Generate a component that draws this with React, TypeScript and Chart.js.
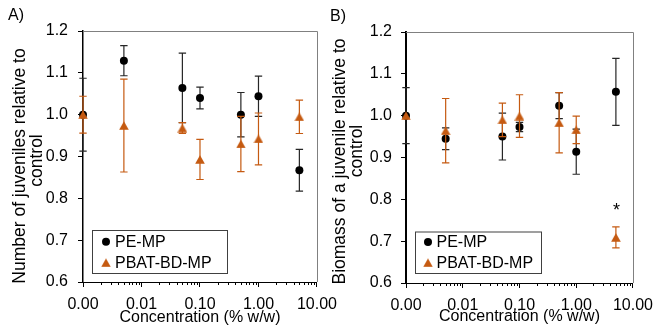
import React, { useEffect, useRef } from 'react';
import { Chart, registerables } from 'chart.js';

Chart.register(...registerables);

const FONT = "'Liberation Sans', Arial, sans-serif";
const BLACK = '#000000';
const ORANGE = '#C55A11';
const PE_ERR_COLOR = '#262626';

// ---- data ----
const seriesNames = ['PE-MP', 'PBAT-BD-MP'];
// control (0 % w/w) is plotted at 0.001 on the log axis
const concentrations = [0.001, 0.005, 0.05, 0.1, 0.5, 1, 5];
const xTickValues = [0.001, 0.01, 0.1, 1, 10];
const xTickLabels = ['0.00', '0.01', '0.10', '1.00', '10.00'];
const yTickValues = [0.6, 0.7, 0.8, 0.9, 1.0, 1.1, 1.2];

// Panel A: number of juveniles relative to control
const peJuveniles = [1.0, 1.129, 1.064, 1.04, 1.0, 1.044, 0.867];
const peJuvenilesErr = [0.087, 0.036, 0.083, 0.026, 0.053, 0.048, 0.05];
const pbatJuveniles = [1.0, 0.974, 0.968, 0.893, 0.93, 0.942, 0.995];
const pbatJuvenilesErr = [0.044, 0.111, 0.013, 0.048, 0.066, 0.062, 0.04];

// Panel B: biomass of a juvenile relative to control
const peBiomass = [1.0, 0.945, 0.95, 0.973, 1.024, 0.914, 1.057];
const peBiomassErr = [0.067, 0.026, 0.056, 0.011, 0.031, 0.054, 0.08];
const pbatBiomass = [1.0, 0.964, 0.99, 0.999, 0.983, 0.966, 0.709];
const pbatBiomassErr = [0, 0.077, 0.04, 0.051, 0.072, 0.033, 0.025];
const pbatBiomassSignificant = [6];

type Panel = {
  label: string;
  yTitle: string[];
  xTitle: string;
  pe: number[];
  peErr: number[];
  pbat: number[];
  pbatErr: number[];
  significant: number[];
  canvasLeft: number;
  canvasWidth: number;
  yAxisWidth: number;
  top: number;
  padRight: number;
  xAxisHeight: number;
  yBorderWidth: number;
  yTickPadding: number;
  labelPos: [number, number];
  yTitlePos: [number, number][];
  xTitleY: number;
  legend: { x: number; y: number; w: number; h: number; markerX: number; textX: number; rows: number[] };
};

const panels: Panel[] = [
  {
    label: 'A)',
    yTitle: ['Number of juveniles relative to', 'control'],
    xTitle: 'Concentration (% w/w)',
    pe: peJuveniles,
    peErr: peJuvenilesErr,
    pbat: pbatJuveniles,
    pbatErr: pbatJuvenilesErr,
    significant: [],
    canvasLeft: 0,
    canvasWidth: 345,
    yAxisWidth: 83,
    top: 31,
    padRight: 28,
    xAxisHeight: 49,
    yBorderWidth: 1.5,
    yTickPadding: 10,
    labelPos: [8, 16],
    yTitlePos: [[20.5, 166], [37.5, 160.5]],
    xTitleY: 317.5,
    legend: { x: 92, y: 230, w: 135, h: 43, markerX: 106, textX: 115, rows: [241.7, 262.7] },
  },
  {
    label: 'B)',
    yTitle: ['Biomass of a juvenile relative to', 'control'],
    xTitle: 'Concentration (% w/w)',
    pe: peBiomass,
    peErr: peBiomassErr,
    pbat: pbatBiomass,
    pbatErr: pbatBiomassErr,
    significant: pbatBiomassSignificant,
    canvasLeft: 330,
    canvasWidth: 331,
    yAxisWidth: 76,
    top: 32,
    padRight: 23,
    xAxisHeight: 48,
    yBorderWidth: 2,
    yTickPadding: 9,
    labelPos: [0, 17],
    yTitlePos: [[10, 161.5], [27, 151]],
    xTitleY: 317,
    legend: { x: 85, y: 231.5, w: 126, h: 41.5, markerX: 98, textX: 106.5, rows: [242, 262.7] },
  },
];

// triangle marker centred on its bounding box (like the spreadsheet marker)
function makeTriangleImage(color: string): HTMLCanvasElement {
  const c = document.createElement('canvas');
  c.width = 10;
  c.height = 9;
  const g = c.getContext('2d')!;
  g.fillStyle = color;
  g.beginPath();
  g.moveTo(5, 0.2);
  g.lineTo(9.8, 8.8);
  g.lineTo(0.2, 8.8);
  g.closePath();
  g.fill();
  return c;
}

function drawMarker(ctx: CanvasRenderingContext2D, style: any, x: number, y: number, r: number, color: string) {
  ctx.save();
  if (style instanceof HTMLCanvasElement) {
    ctx.drawImage(style, x - style.width / 2, y - style.height / 2);
  } else {
    ctx.fillStyle = color;
    ctx.beginPath();
    ctx.arc(x, y, r, 0, Math.PI * 2);
    ctx.fill();
  }
  ctx.restore();
}

const decorPlugin = {
  id: 'decor',
  beforeDatasetDraw(chart: any, args: any) {
    const ds = chart.data.datasets[args.index];
    const errs: number[] | undefined = ds.errorBars;
    if (!errs) return;
    const ctx: CanvasRenderingContext2D = chart.ctx;
    const xS = chart.scales.x;
    const yS = chart.scales.y;
    ctx.save();
    ctx.strokeStyle = ds.errorColor;
    ctx.lineWidth = 1.2;
    ds.data.forEach((p: { x: number; y: number }, i: number) => {
      const e = errs[i];
      if (!e) return;
      const x = xS.getPixelForValue(p.x);
      const y1 = yS.getPixelForValue(p.y + e);
      const y2 = yS.getPixelForValue(p.y - e);
      ctx.beginPath();
      ctx.moveTo(x, y1);
      ctx.lineTo(x, y2);
      ctx.moveTo(x - 3.7, y1);
      ctx.lineTo(x + 3.7, y1);
      ctx.moveTo(x - 3.7, y2);
      ctx.lineTo(x + 3.7, y2);
      ctx.stroke();
    });
    ctx.restore();
  },
  beforeDatasetsDraw(chart: any) {
    const ctx: CanvasRenderingContext2D = chart.ctx;
    const a = chart.chartArea;
    const xS = chart.scales.x;
    ctx.save();
    // top and right frame
    ctx.strokeStyle = '#808080';
    ctx.lineWidth = 1;
    ctx.beginPath();
    ctx.moveTo(Math.round(a.left), Math.round(a.top) + 0.5);
    ctx.lineTo(Math.round(a.right) + 0.5, Math.round(a.top) + 0.5);
    ctx.lineTo(Math.round(a.right) + 0.5, Math.round(a.bottom));
    ctx.stroke();
    // minor log ticks
    ctx.strokeStyle = BLACK;
    ctx.beginPath();
    for (let d = 0.001; d < 10; d *= 10) {
      for (let m = 2; m <= 9; m++) {
        const x = Math.round(xS.getPixelForValue(d * m)) + 0.5;
        ctx.moveTo(x, a.bottom);
        ctx.lineTo(x, a.bottom + 3);
      }
    }
    ctx.stroke();
    ctx.restore();
  },
  afterDraw(chart: any, _args: any, opts: any) {
    const p: Panel = opts.panel;
    const ctx: CanvasRenderingContext2D = chart.ctx;
    const xS = chart.scales.x;
    const yS = chart.scales.y;
    const a = chart.chartArea;
    ctx.save();
    ctx.fillStyle = BLACK;
    // panel label
    ctx.font = `16px ${FONT}`;
    ctx.textAlign = 'left';
    ctx.textBaseline = 'middle';
    ctx.fillText(p.label, p.labelPos[0], p.labelPos[1]);
    // x title
    ctx.font = `16px ${FONT}`;
    ctx.textAlign = 'center';
    ctx.fillText(p.xTitle, (a.left + a.right) / 2, p.xTitleY);
    // y title
    p.yTitle.forEach((line, i) => {
      ctx.save();
      ctx.translate(p.yTitlePos[i][0], p.yTitlePos[i][1]);
      ctx.rotate(-Math.PI / 2);
      ctx.font = `17.5px ${FONT}`;
      ctx.textAlign = 'center';
      ctx.textBaseline = 'middle';
      ctx.fillText(line, 0, 0);
      ctx.restore();
    });
    // significance asterisks
    const dsPbat = chart.data.datasets[1];
    p.significant.forEach((i) => {
      const pt = dsPbat.data[i];
      const x = xS.getPixelForValue(pt.x);
      const y = yS.getPixelForValue(pt.y + dsPbat.errorBars[i] + 0.05);
      ctx.font = `18px ${FONT}`;
      ctx.textAlign = 'center';
      ctx.textBaseline = 'alphabetic';
      ctx.fillText('*', x + 0.5, y + 0.575 * 18);
    });
    // legend
    const L = p.legend;
    ctx.fillStyle = '#ffffff';
    ctx.fillRect(L.x, L.y, L.w, L.h);
    ctx.strokeStyle = '#404040';
    ctx.lineWidth = 1;
    ctx.strokeRect(L.x + 0.5, L.y + 0.5, L.w, L.h);
    chart.data.datasets.forEach((ds: any, i: number) => {
      drawMarker(ctx, ds.pointStyle, L.markerX, L.rows[i], ds.pointRadius, ds.pointBackgroundColor);
      ctx.fillStyle = BLACK;
      ctx.font = `16px ${FONT}`;
      ctx.textAlign = 'left';
      ctx.textBaseline = 'middle';
      ctx.fillText(ds.label, L.textX, L.rows[i] + 0.5);
    });
    ctx.restore();
  },
};

function makeConfig(p: Panel): any {
  const tri = makeTriangleImage(ORANGE);
  return {
    type: 'scatter',
    data: {
      datasets: [
        {
          label: seriesNames[0],
          data: concentrations.map((x, i) => ({ x, y: p.pe[i] })),
          errorBars: p.peErr,
          errorColor: PE_ERR_COLOR,
          pointStyle: 'circle',
          pointRadius: 4,
          pointBackgroundColor: BLACK,
          pointBorderColor: BLACK,
          pointBorderWidth: 0,
          showLine: false,
          order: 2,
          clip: false,
        },
        {
          label: seriesNames[1],
          data: concentrations.map((x, i) => ({ x, y: p.pbat[i] })),
          errorBars: p.pbatErr,
          errorColor: ORANGE,
          pointStyle: tri,
          pointRadius: 5,
          pointBackgroundColor: ORANGE,
          pointBorderColor: ORANGE,
          pointBorderWidth: 0,
          showLine: false,
          order: 1,
          clip: false,
        },
      ],
    },
    options: {
      responsive: false,
      animation: false,
      events: [],
      layout: { padding: { left: 0, top: p.top, right: p.padRight, bottom: 0 } },
      plugins: {
        legend: { display: false },
        tooltip: { enabled: false },
        decor: { panel: p },
      },
      scales: {
        x: {
          type: 'logarithmic',
          min: 0.001,
          max: 10,
          afterBuildTicks: (s: any) => {
            s.ticks = xTickValues.map((v) => ({ value: v, major: false }));
          },
          afterFit: (s: any) => {
            s.height = p.xAxisHeight;
          },
          ticks: {
            callback: (_v: any, i: number) => xTickLabels[i],
            font: { size: 16, family: FONT },
            color: BLACK,
            padding: 8,
            maxRotation: 0,
            autoSkip: false,
          },
          grid: { display: true, drawOnChartArea: false, drawTicks: true, tickLength: 5, color: BLACK },
          border: { display: true, color: BLACK, width: 1 },
        },
        y: {
          type: 'linear',
          min: 0.6,
          max: 1.2,
          afterBuildTicks: (s: any) => {
            s.ticks = yTickValues.map((v) => ({ value: v }));
          },
          afterFit: (s: any) => {
            s.width = p.yAxisWidth;
          },
          ticks: {
            callback: (v: any) => Number(v).toFixed(1),
            font: { size: 16, family: FONT },
            color: BLACK,
            padding: p.yTickPadding,
          },
          grid: { display: true, drawOnChartArea: false, drawTicks: true, tickLength: 5, color: BLACK },
          border: { display: true, color: BLACK, width: p.yBorderWidth },
        },
      },
    },
    plugins: [decorPlugin],
  };
}

function PanelChart({ panel }: { panel: Panel }) {
  const ref = useRef<HTMLCanvasElement | null>(null);
  useEffect(() => {
    if (!ref.current) return;
    const chart = new Chart(ref.current, makeConfig(panel));
    return () => chart.destroy();
  }, [panel]);
  return (
    <canvas
      ref={ref}
      width={panel.canvasWidth}
      height={331}
      style={{ position: 'absolute', left: panel.canvasLeft, top: 0, width: panel.canvasWidth, height: 331 }}
    />
  );
}

export default function App() {
  return (
    <div style={{ position: 'fixed', left: 0, top: 0, width: 661, height: 331, background: '#ffffff', overflow: 'hidden' }}>
      {panels.map((p) => (
        <PanelChart key={p.label} panel={p} />
      ))}
    </div>
  );
}
